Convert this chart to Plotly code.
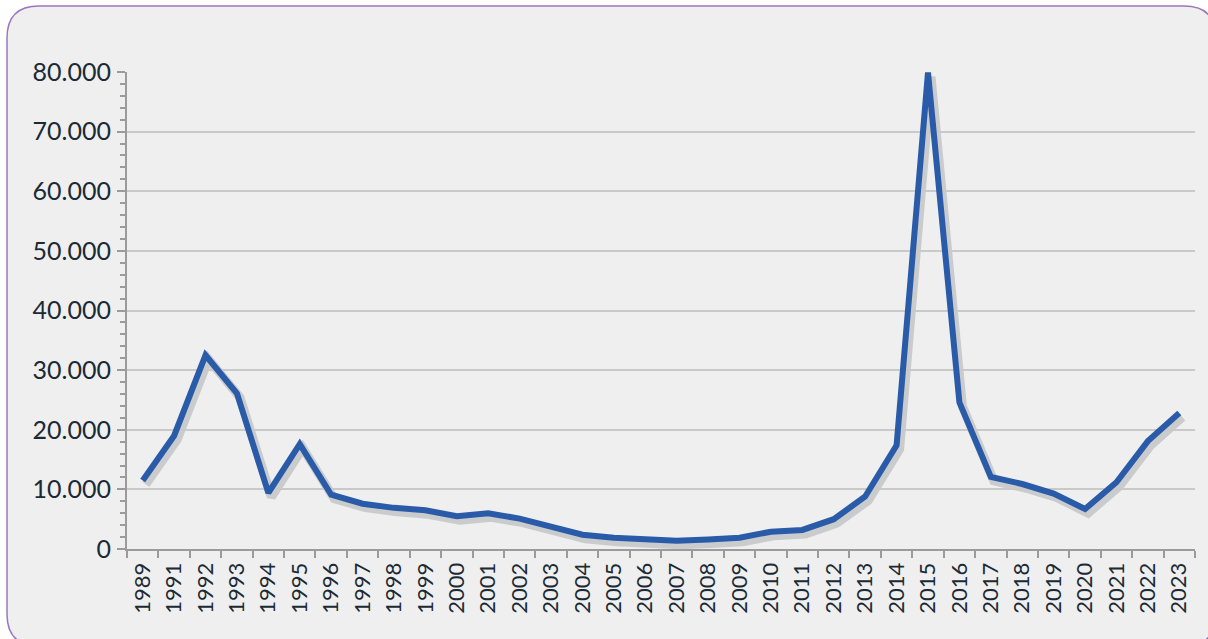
import plotly.graph_objects as go

years = ["1989", "1991", "1992", "1993", "1994", "1995", "1996", "1997", "1998", "1999",
         "2000", "2001", "2002", "2003", "2004", "2005", "2006", "2007", "2008", "2009",
         "2010", "2011", "2012", "2013", "2014", "2015", "2016", "2017", "2018", "2019",
         "2020", "2021", "2022", "2023"]
values = [11500, 19000, 32500, 26100, 9400, 17600, 9100, 7600, 6900, 6500,
          5500, 6000, 5100, 3800, 2400, 1900, 1600, 1400, 1600, 1900,
          2900, 3200, 5000, 8800, 17400, 79900, 24600, 12100, 10900, 9300,
          6700, 11200, 18100, 22800]
y_ticks = list(range(0, 80001, 10000))

W, H = 1208, 639
ML, MR, MT, MB = 127, 10, 72, 86
PW = W - ML - MR
PH = H - MT - MB
SX, SY = 3, 4  # shadow offset px
sx, sy = SX / PW, SY / PH

def px(x):
    return (x - ML) / PW

def py(y):
    return (H - MB - y) / PH

LINE = "#2a5ba9"
AX = "#9b9b9b"
TXT = "#1b2a35"

fig = go.Figure()
# shadow (drawn first, subplot xy)
fig.add_trace(go.Scatter(x=years, y=values, mode="lines", xaxis="x", yaxis="y",
                         line=dict(color="rgba(60,60,70,0.2)", width=9),
                         hoverinfo="skip", showlegend=False))
# main line (subplot x2y2)
fig.add_trace(go.Scatter(x=years, y=values, mode="lines", xaxis="x2", yaxis="y2",
                         line=dict(color=LINE, width=6),
                         showlegend=False))

# rounded border
L, T, R, B, r = 7, 6, 1216, 646, 32
path = (f"M {px(L+r)},{py(T)} L {px(R-r)},{py(T)} Q {px(R)},{py(T)} {px(R)},{py(T+r)} "
        f"L {px(R)},{py(B-r)} Q {px(R)},{py(B)} {px(R-r)},{py(B)} "
        f"L {px(L+r)},{py(B)} Q {px(L)},{py(B)} {px(L)},{py(B-r)} "
        f"L {px(L)},{py(T+r)} Q {px(L)},{py(T)} {px(L+r)},{py(T)} Z")

fig.update_layout(
    width=W, height=H,
    margin=dict(l=ML, r=MR, t=MT, b=MB),
    paper_bgcolor="white",
    plot_bgcolor="rgba(0,0,0,0)",
    separators=",.",
    font=dict(family="Lato, 'Open Sans', sans-serif", color=TXT),
    shapes=[dict(type="path", path=path, xref="paper", yref="paper",
                 fillcolor="#eeefee", line=dict(color="#9b78bd", width=1.5),
                 layer="below")],
    xaxis=dict(domain=[sx, 1], type="category", range=[-0.5, len(years) - 0.5],
               visible=False, showgrid=False),
    yaxis=dict(domain=[0, 1 - sy], range=[0, 80000], visible=False, showgrid=False),
    xaxis2=dict(domain=[0, 1 - sx], anchor="y2", type="category",
                range=[-0.5, len(years) - 0.5],
                showline=True, linecolor=AX, linewidth=2,
                ticks="outside", tickson="boundaries", ticklen=7, tickwidth=2,
                tickcolor=AX, tickangle=-90, showgrid=False,
                ticklabelstandoff=3,
                tickfont=dict(size=22, color=TXT)),
    yaxis2=dict(domain=[sy, 1], anchor="x2", range=[0, 80000],
                tickvals=y_ticks, tickformat=",d",
                showline=True, linecolor=AX, linewidth=2,
                ticks="outside", ticklen=8, tickwidth=2, tickcolor=AX,
                showgrid=True, gridcolor="#c9c9c9", gridwidth=1.5,
                zeroline=False,
                minor=dict(dtick=2000, ticks="outside", ticklen=5, tickwidth=1.5,
                           tickcolor=AX, showgrid=False),
                ticklabelstandoff=1,
                tickfont=dict(size=25, color=TXT)),
)

fig.write_html("out.html", config={"displayModeBar": False},
               post_script="document.body.style.margin='0';document.body.style.overflow='hidden';")
